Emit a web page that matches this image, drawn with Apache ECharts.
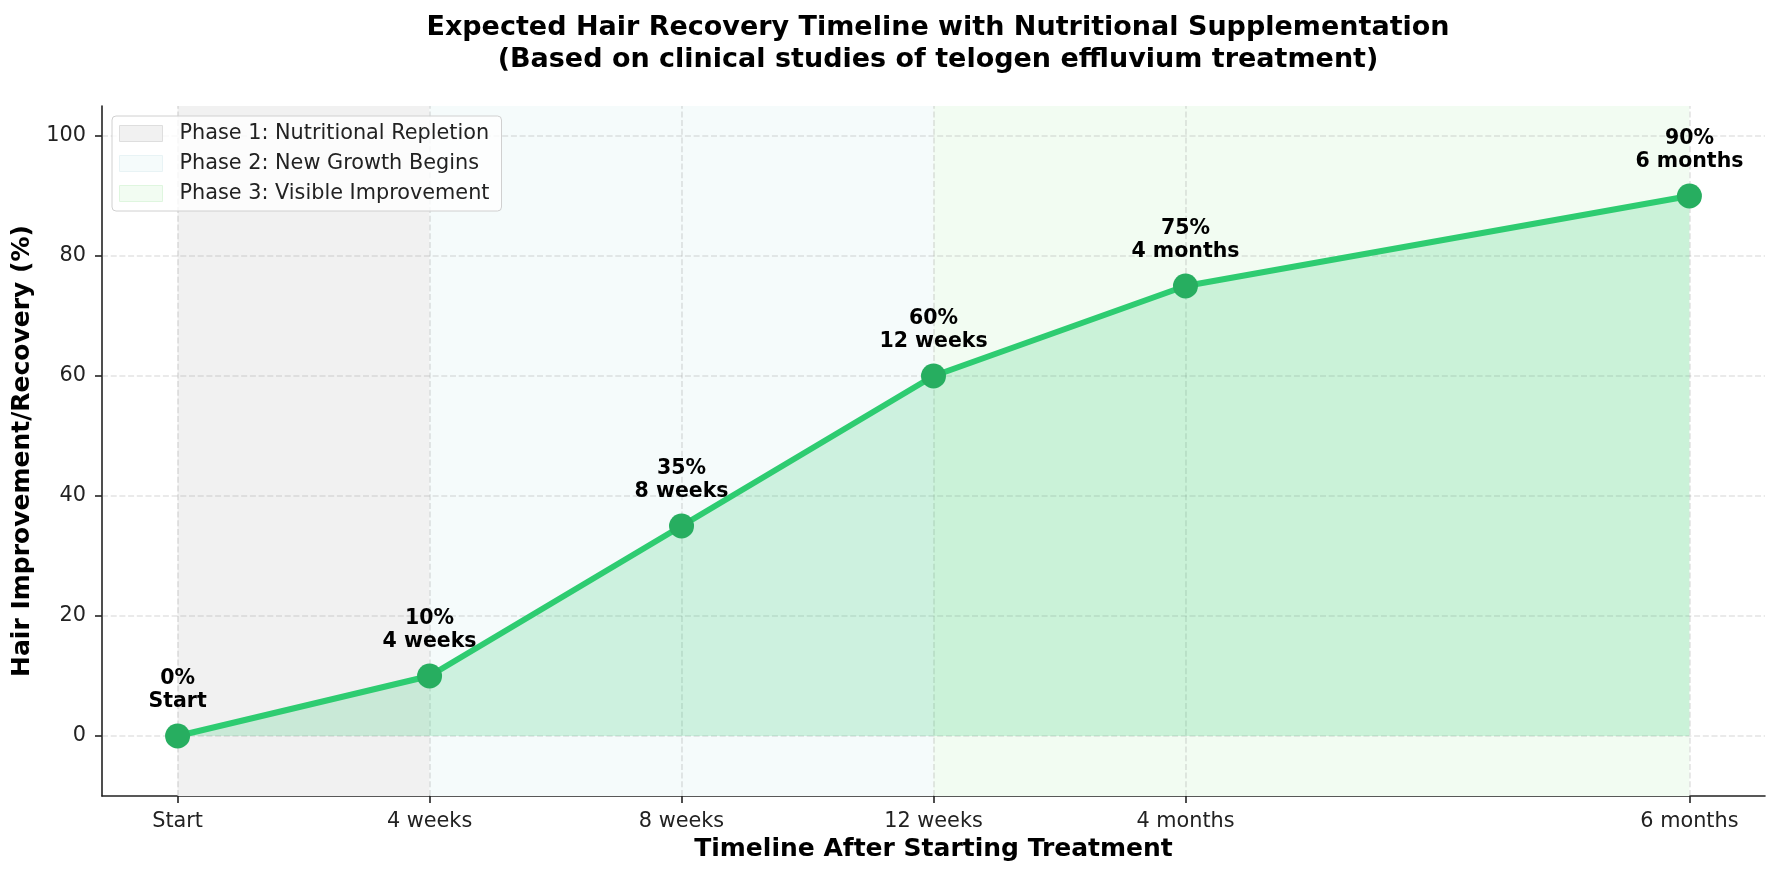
<!DOCTYPE html>
<html>
<head>
<meta charset="utf-8">
<script src="https://cdn.jsdelivr.net/npm/echarts@6/dist/echarts.min.js"></script>
<style>
  html, body { margin: 0; padding: 0; background: #fff; }
  #chart { width: 1782px; height: 878px; }
</style>
</head>
<body>
<div id="chart"></div>
<script>
// data
const weeks = [0, 4, 8, 12, 16, 24];
const timeLabels = ['Start', '4 weeks', '8 weeks', '12 weeks', '4 months', '6 months'];
const recovery = [0, 10, 35, 60, 75, 90];
const yTicks = [0, 20, 40, 60, 80, 100];

const phaseNames = ['Phase 1: Nutritional Repletion', 'Phase 2: New Growth Begins', 'Phase 3: Visible Improvement'];
const phaseStart = [0, 4, 12];
const phaseEnd = [4, 12, 24];
const phaseColors = ['#f1f1f1', '#f5fbfb', '#f2fcf2'];
const phaseEdges = ['#dedede', '#e8f3f5', '#dff6df'];

const FONT = 'DejaVu Sans';
const chart = echarts.init(document.getElementById('chart'));

// shaded phases (markArea on empty series so they get a legend entry)
const phaseSeries = phaseNames.map((name, i) => ({
    name: name,
    type: 'line',
    data: [],
    z: 1,
    color: phaseColors[i],
    markArea: {
        silent: true,
        z: 1,
        itemStyle: { color: phaseColors[i], opacity: 1 },
        data: [[{ xAxis: phaseStart[i], yAxis: -10 }, { xAxis: phaseEnd[i], yAxis: 105 }]]
    }
}));

// dashed grid lines at the tick positions
const gridSeries = {
    type: 'line',
    data: [],
    z: 2,
    markLine: {
        silent: true,
        z: 2,
        symbol: 'none',
        label: { show: false },
        lineStyle: { color: 'rgba(128,128,128,0.22)', type: [6, 2.7], width: 1.6 },
        data: weeks.map(v => ({ xAxis: v })).concat(yTicks.map(v => ({ yAxis: v })))
    }
};

const option = {
    animation: false,
    textStyle: { fontFamily: FONT },
    title: {
        text: 'Expected Hair Recovery Timeline with Nutritional Supplementation\n(Based on clinical studies of telogen effluvium treatment)',
        left: 933,
        top: 7,
        textAlign: 'center',
        textStyle: { fontFamily: FONT, fontSize: 27, fontWeight: 'bold', color: '#000', lineHeight: 32 }
    },
    legend: {
        orient: 'vertical',
        left: 112,
        top: 116,
        padding: [7, 12, 7, 7],
        itemWidth: 43,
        itemHeight: 16,
        itemGap: 9,
        backgroundColor: 'rgba(255,255,255,0.8)',
        borderColor: '#d0d0d0',
        borderWidth: 1,
        borderRadius: 4,
        textStyle: { fontFamily: FONT, fontSize: 20.8, color: '#222', lineHeight: 21, padding: [0, 0, 0, 12] },
        data: phaseNames.map((name, i) => ({
            name: name,
            icon: 'rect',
            itemStyle: { color: phaseColors[i], borderColor: phaseEdges[i], borderWidth: 1 }
        }))
    },
    grid: { left: 102, right: 17, top: 106, bottom: 82, containLabel: false },
    xAxis: {
        type: 'value',
        min: -1.2,
        max: 25.2,
        name: 'Timeline After Starting Treatment',
        nameLocation: 'middle',
        nameGap: 40,
        nameTextStyle: { fontFamily: FONT, fontSize: 25, fontWeight: 'bold', color: '#000' },
        axisLine: { show: true, onZero: false, lineStyle: { color: '#222', width: 1.6 } },
        axisTick: { show: true, length: 7, customValues: weeks, lineStyle: { color: '#222', width: 1.6 } },
        axisLabel: {
            customValues: weeks,
            margin: 15,
            fontSize: 20.8,
            color: '#222',
            formatter: v => timeLabels[weeks.indexOf(v)]
        },
        splitLine: { show: false }
    },
    yAxis: {
        type: 'value',
        min: -10,
        max: 105,
        name: 'Hair Improvement/Recovery (%)',
        nameLocation: 'middle',
        nameGap: 63,
        nameTextStyle: { fontFamily: FONT, fontSize: 25, fontWeight: 'bold', color: '#000' },
        axisLine: { show: true, onZero: false, lineStyle: { color: '#222', width: 1.6 } },
        axisTick: { show: true, length: 7, customValues: yTicks, lineStyle: { color: '#222', width: 1.6 } },
        axisLabel: { customValues: yTicks, margin: 16, fontSize: 20.8, color: '#222' },
        splitLine: { show: false }
    },
    series: phaseSeries.concat([
        gridSeries,
        {
            name: 'Recovery',
            type: 'line',
            z: 3,
            data: weeks.map((w, i) => [w, recovery[i]]),
            lineStyle: { color: '#2ecc71', width: 6 },
            itemStyle: { color: '#27ae60' },
            symbol: 'circle',
            symbolSize: 25,
            areaStyle: { color: '#2ecc71', opacity: 0.2, origin: 0 },
            label: {
                show: true,
                position: 'top',
                distance: 10,
                fontFamily: FONT,
                fontSize: 20.5,
                fontWeight: 'bold',
                color: '#000',
                lineHeight: 23.5,
                align: 'center',
                formatter: p => recovery[p.dataIndex] + '%\n' + timeLabels[p.dataIndex]
            }
        }
    ])
};

chart.setOption(option);
</script>
</body>
</html>
